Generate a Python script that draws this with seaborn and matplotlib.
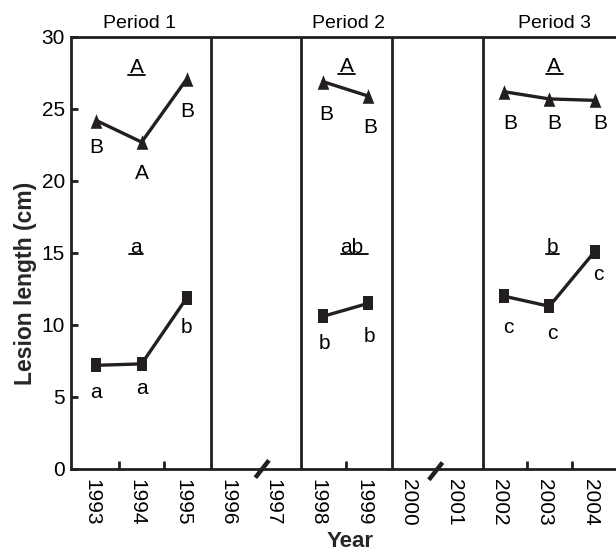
import numpy as np
import pandas as pd
import seaborn as sns
import matplotlib.pyplot as plt
from matplotlib.path import Path

# ---------------- data ----------------
year_labels = ['1993', '1994', '1995', '1996', '1997', '1998',
               '1999', '2000', '2001', '2002', '2003', '2004']
obs_years = ['1993', '1994', '1995', '1998', '1999', '2002', '2003', '2004']
obs_period = [1, 1, 1, 2, 2, 3, 3, 3]
upper_values = [24.2, 22.7, 27.1, 26.9, 25.9, 26.2, 25.7, 25.6]   # triangles
lower_values = [7.2, 7.3, 11.9, 10.6, 11.5, 12.0, 11.3, 15.1]     # squares
upper_letters = ['B', 'A', 'B', 'B', 'B', 'B', 'B', 'B']
lower_letters = ['a', 'a', 'b', 'b', 'b', 'c', 'c', 'c']
period_names = ['Period 1', 'Period 2', 'Period 3']
period_upper_group = ['A', 'A', 'A']
period_lower_group = ['a', 'ab', 'b']

# ---------------- layout (text positions) ----------------
upper_letter_pos = [(0.0, 22.3), (1.01, 20.5), (2.01, 24.8), (5.07, 24.6),
                    (6.04, 23.7), (9.13, 24.0), (10.1, 24.0), (11.12, 24.0)]
lower_letter_pos = [(0.0, 5.3), (1.0, 5.6), (1.99, 9.8), (5.04, 8.7),
                    (6.02, 9.2), (9.09, 9.8), (10.07, 9.4), (11.08, 13.5)]
period_name_x = [0.96, 5.56, 10.12]
period_upper_pos = [(0.89, 27.85), (5.52, 27.95), (10.11, 27.95)]
period_lower_pos = [(0.87, 15.4), (5.63, 15.4), (10.06, 15.4)]
# underline: (x start, x end, y)
upper_underlines = [(0.70, 1.08, 27.35), (5.33, 5.71, 27.45), (9.92, 10.30, 27.45)]
lower_underlines = [(0.72, 1.02, 14.9), (5.40, 6.00, 14.9), (9.92, 10.21, 14.9)]
separators = [2.53, 4.52, 6.53, 8.53]
minor_tick_pos = [0.5, 1.5, 5.5, 9.5, 10.5]
break_pos = [(3.66, 0.0), (7.49, -0.15)]

INK = '#231f20'

sns.set_style('white')
plt.rcParams['font.family'] = ['Liberation Sans', 'DejaVu Sans']

x_of = {y: i for i, y in enumerate(year_labels)}
df = pd.DataFrame({
    'x': [x_of[y] for y in obs_years],
    'period': obs_period,
    'upper': upper_values,
    'lower': lower_values,
})

fig = plt.figure(figsize=(6.16, 5.51), dpi=100)
ax = fig.add_axes([70.5 / 616, 82 / 551, 1 - 70.5 / 616, 432 / 551])

tri = Path([(-0.8, -1), (0.8, -1), (0, 1), (-0.8, -1)],
           [Path.MOVETO, Path.LINETO, Path.LINETO, Path.CLOSEPOLY])
sq = Path([(-0.75, -1), (0.75, -1), (0.75, 1), (-0.75, 1), (-0.75, -1)],
          [Path.MOVETO, Path.LINETO, Path.LINETO, Path.LINETO, Path.CLOSEPOLY])

sns.lineplot(data=df, x='x', y='upper', units='period', estimator=None,
             sort=False, color=INK, lw=2.4, marker=tri, markersize=10.5,
             markeredgewidth=0, ax=ax, legend=False)
sns.lineplot(data=df, x='x', y='lower', units='period', estimator=None,
             sort=False, color=INK, lw=2.4, marker=sq, markersize=10,
             markeredgewidth=0, ax=ax, legend=False)

ax.set_xlim(-0.57, 11.47)
ax.set_ylim(0, 30)

for sx in separators:
    ax.axvline(sx, color=INK, lw=2.0)

for s in ['left', 'bottom', 'top']:
    ax.spines[s].set_color(INK)
    ax.spines[s].set_linewidth(2.0)
ax.spines['right'].set_visible(False)

# y axis
ax.set_yticks([0, 5, 10, 15, 20, 25, 30])
ax.tick_params(axis='y', direction='in', length=5, width=2, color=INK,
               labelsize=15, labelcolor='black', pad=4, left=True)
# x axis: labels without marks, minor marks at boundaries
ax.set_xticks(np.arange(len(year_labels)) - 0.1)
ax.set_xticklabels(year_labels, rotation=270, ha='center', va='top')
ax.tick_params(axis='x', which='major', length=0, labelsize=15,
               labelcolor='black', pad=7)
ax.set_xticks(minor_tick_pos, minor=True)
ax.tick_params(axis='x', which='minor', direction='in', length=6, width=2,
               color=INK, bottom=True)

ax.set_xlabel('Year', fontsize=16, fontweight='bold', va='center')
ax.set_ylabel('Lesion length (cm)', fontsize=16.5, fontweight='bold', va='center')
ax.xaxis.set_label_coords(0.512, -0.167)
ax.yaxis.set_label_coords(-0.083, 0.43)

# break marks on the x axis
for bx, by in break_pos:
    ax.plot([bx - 0.15, bx + 0.15], [by - 0.6, by + 0.6], color=INK,
            lw=3.2, clip_on=False, solid_capstyle='butt', zorder=5)

txt = dict(ha='center', va='center', fontsize=15, color='black')
for (px, py), t in zip(upper_letter_pos, upper_letters):
    ax.text(px, py, t, **txt)
for (px, py), t in zip(lower_letter_pos, lower_letters):
    ax.text(px, py, t, **txt)
for (px, py), t in zip(period_upper_pos, period_upper_group):
    ax.text(px, py, t, **txt)
for (px, py), t in zip(period_lower_pos, period_lower_group):
    ax.text(px, py, t, **txt)
for x0, x1, uy in upper_underlines + lower_underlines:
    ax.plot([x0, x1], [uy, uy], color='black', lw=1.3)
for px, t in zip(period_name_x, period_names):
    ax.text(px, 30.95, t, ha='center', va='center', fontsize=14,
            color='black', clip_on=False)

fig.savefig('out.png', dpi=100)
